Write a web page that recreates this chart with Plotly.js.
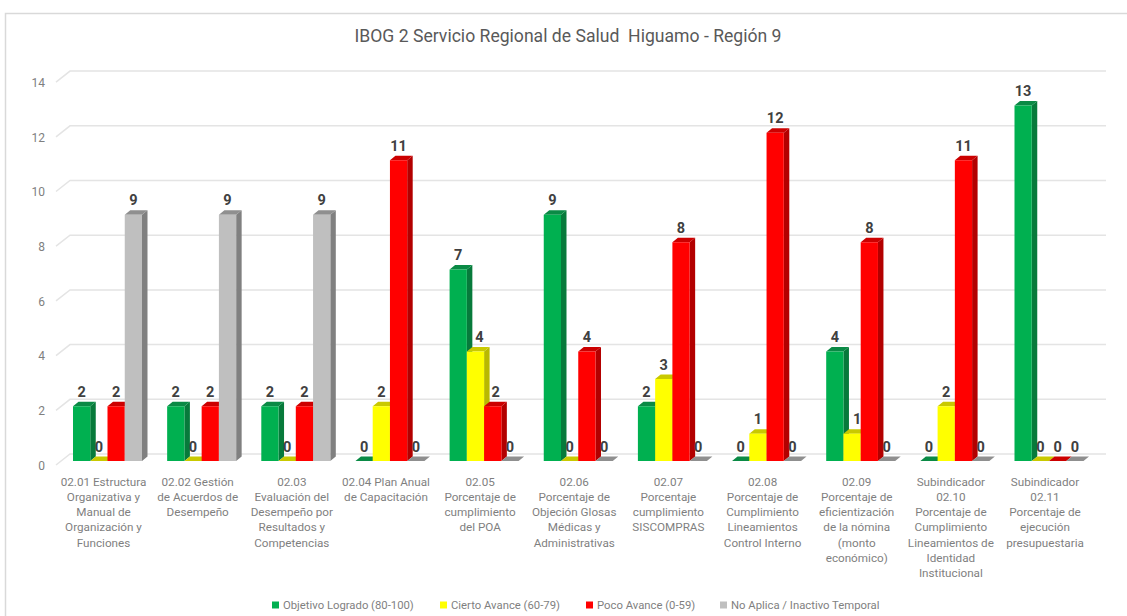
<!DOCTYPE html>
<html><head><meta charset="utf-8">
<script src="https://cdn.plot.ly/plotly-3.0.1.min.js"></script>
<style>html,body{margin:0;padding:0;background:#fff;overflow:hidden}</style>
</head><body><div id="chart" style="width:1127px;height:616px"></div>
<script>
const categories = [
 "02.01 Estructura<br>Organizativa y<br>Manual de<br>Organización y<br>Funciones",
 "02.02 Gestión<br>de Acuerdos de<br>Desempeño",
 "02.03<br>Evaluación del<br>Desempeño por<br>Resultados y<br>Competencias",
 "02.04 Plan Anual<br>de Capacitación",
 "02.05<br>Porcentaje de<br>cumplimiento<br>del POA",
 "02.06<br>Porcentaje de<br>Objeción Glosas<br>Médicas y<br>Administrativas",
 "02.07<br>Porcentaje<br>cumplimiento<br>SISCOMPRAS",
 "02.08<br>Porcentaje de<br>Cumplimiento<br>Lineamientos<br>Control Interno",
 "02.09<br>Porcentaje de<br>eficientización<br>de la nómina<br>(monto<br>económico)",
 "Subindicador<br>02.10<br>Porcentaje de<br>Cumplimiento<br>Lineamientos de<br>Identidad<br>Institucional",
 "Subindicador<br>02.11<br>Porcentaje de<br>ejecución<br>presupuestaria"
];
const objetivo = [2,2,2,0,7,9,2,0,4,0,13];
const cierto   = [0,0,0,2,4,0,3,1,1,2,0];
const poco     = [2,2,2,11,2,4,8,12,8,11,0];
const noAplica = [9,9,9,0,0,0,0,0,0,0,0];
const yTicks = [0,2,4,6,8,10,12,14];
const seriesNames = ["Objetivo Logrado (80-100)","Cierto Avance (60-79)","Poco Avance (0-59)","No Aplica / Inactivo Temporal"];
const frontColors = ["#00b050","#ffff00","#ff0000","#bfbfbf"];
const sideColors  = ["#077a3b","#b9b900","#b30000","#808080"];
const topColors   = ["#0a8a45","#c9c900","#cc0000","#8f8f8f"];
const seriesValues = [objetivo,cierto,poco,noAplica];
const titleText = "IBOG 2 Servicio Regional de Salud  Higuamo - Región 9";
const legendSwatchX = [272,440,586,720];
const legendTextX   = [283,451,597,731];

// page geometry of the plot
const W=1127,H=616;
const pxPerCat=94.15, pxPerUnit=27.35, x0px=107.5, y0px=461;
const domL=46, domR=1120, domT=50, domB=473, axisDrop=4.5, tickLabelShift=-4;
const xRange=[(domL-x0px)/pxPerCat,(domR-x0px)/pxPerCat];
const yRange=[(y0px-domB)/pxPerUnit,(y0px-domT)/pxPerUnit];
const dx=p=>p/pxPerCat, dy=p=>p/pxPerUnit;
const xDomain=[domL/W,domR/W], yDomain=[1-domB/H,1-domT/H];
const labelAxisDomain=[1-(domB+axisDrop)/H,1-(domT+axisDrop)/H];
const barW=dx(17.25);
const depthX=dx(5.5), depthY=dy(4.5);
const idx=categories.map((_,i)=>i);
const font="Roboto, Lato, sans-serif";
// value labels the reference moved sideways, px: series index -> category index -> shift
const labelNudge={1:{4:4,8:5},2:{4:3}};

const traces=[];
// wall grid
yTicks.forEach(v=>{
  traces.push({type:"scatter",mode:"lines",xaxis:"x",yaxis:"y",showlegend:false,hoverinfo:"skip",
    x:[dx(56-x0px),dx(70-x0px),dx(1106-x0px)],
    y:[v-dy(465-y0px),v+dy(y0px-454),v+dy(y0px-454)],
    line:{color:"#e4e4e4",width:1.5},cliponaxis:false});
});
// empty trace so the axis carrying the y tick labels (drawn on the front edge of the floor) exists
traces.push({type:"scatter",mode:"lines",xaxis:"x",yaxis:"y4",x:[-5],y:[-5],showlegend:false,hoverinfo:"skip"});
// legend entries: one native legend per entry so each text sits where the reference has it
seriesNames.forEach((n,s)=>{
  traces.push({type:"scatter",mode:"lines",xaxis:"x",yaxis:"y",name:n,x:[-5],y:[-5],hoverinfo:"skip",
    legend:s===0?"legend":"legend"+(s+1),
    line:{color:"rgba(0,0,0,0)",width:0}});
});
seriesValues.forEach((vals,s)=>{
  const sx=[],sy=[],tx=[],ty=[];
  vals.forEach((v,i)=>{
    const l=i+(s-2)*barW, r=l+barW;
    sx.push(r,r+depthX,r+depthX,r,null); sy.push(0,depthY,v+depthY,v,null);
    tx.push(l,r,r+depthX,l+depthX,null); ty.push(v,v,v+depthY,v+depthY,null);
  });
  traces.push({type:"scatter",mode:"lines",xaxis:"x2",yaxis:"y2",showlegend:false,hoverinfo:"skip",
    x:sx,y:sy,fill:"toself",fillcolor:sideColors[s],line:{width:0,color:sideColors[s]}});
  traces.push({type:"scatter",mode:"lines",xaxis:"x2",yaxis:"y2",showlegend:false,hoverinfo:"skip",
    x:tx,y:ty,fill:"toself",fillcolor:topColors[s],line:{width:0,color:topColors[s]}});
});
seriesValues.forEach((vals,s)=>{
  traces.push({type:"bar",xaxis:"x3",yaxis:"y3",x:idx,y:vals,name:seriesNames[s],showlegend:false,
    marker:{color:frontColors[s],line:{width:0}}});
});
seriesValues.forEach((vals,s)=>{
  traces.push({type:"scatter",mode:"text",xaxis:"x3",yaxis:"y3",showlegend:false,hoverinfo:"skip",
    x:idx.map(i=>i+(s-1.5)*barW+dx((labelNudge[s]||{})[i]||0)),y:vals.map(v=>v+dy(13)),text:vals.map(String),
    textposition:"middle center",textfont:{family:font,size:14.5,color:"#404040",weight:700},cliponaxis:false});
});

const hiddenX={domain:xDomain,range:xRange,overlaying:"x",visible:false,fixedrange:true};
const hiddenY={domain:yDomain,range:yRange,overlaying:"y",visible:false,fixedrange:true};
const layout={
  width:W,height:H,margin:{l:0,r:0,t:0,b:0,autoexpand:false},
  paper_bgcolor:"#fff",plot_bgcolor:"rgba(0,0,0,0)",
  font:{family:font,color:"#7f7f7f"},
  title:{text:titleText,x:568/W,xanchor:"center",y:1-36/H,yanchor:"middle",font:{family:font,size:17.6,color:"#595959"}},
  barmode:"group",bargap:1-4*barW,bargroupgap:0,
  showlegend:true,
  xaxis:{domain:xDomain,range:xRange,tickmode:"array",tickvals:idx.map(i=>i+dx(tickLabelShift)),ticktext:categories,tickangle:0,ticklen:0,showgrid:false,zeroline:false,showline:false,fixedrange:true,
    tickfont:{family:font,size:11.7,color:"#7f7f7f"}},
  yaxis:{domain:yDomain,range:yRange,tickmode:"array",tickvals:yTicks,showticklabels:false,ticklen:0,showgrid:false,zeroline:false,showline:false,fixedrange:true},
  yaxis4:{domain:labelAxisDomain,range:yRange,anchor:"x",tickmode:"array",tickvals:yTicks,ticktext:yTicks.map(String),ticklen:0,showgrid:false,zeroline:false,showline:false,fixedrange:true,
    tickfont:{family:font,size:12,color:"#7f7f7f"}},
  xaxis2:Object.assign({anchor:"y2"},hiddenX),yaxis2:Object.assign({anchor:"x2"},hiddenY),
  xaxis3:Object.assign({anchor:"y3"},hiddenX),yaxis3:Object.assign({anchor:"x3"},hiddenY),
  shapes:[{type:"path",xref:"paper",yref:"paper",
    path:`M ${5.5/W} 0 L ${5.5/W} ${1-13.5/H} L 1 ${1-13.5/H}`,line:{color:"#d9d9d9",width:1.5},layer:"below"}]
};
seriesNames.forEach((n,s)=>{
  layout[s===0?"legend":"legend"+(s+1)]={x:(legendTextX[s]-40)/W,xanchor:"left",y:1-605/H,yanchor:"middle",
    font:{family:font,size:11.3,color:"#7f7f7f"},bgcolor:"rgba(0,0,0,0)"};
  layout.shapes.push({type:"rect",xref:"paper",yref:"paper",x0:legendSwatchX[s]/W,x1:(legendSwatchX[s]+7)/W,y0:1-608.5/H,y1:1-601.5/H,
    fillcolor:frontColors[s],line:{width:0},layer:"above"});
});
Plotly.newPlot("chart",traces,layout,{displayModeBar:false,staticPlot:true});
</script></body></html>
